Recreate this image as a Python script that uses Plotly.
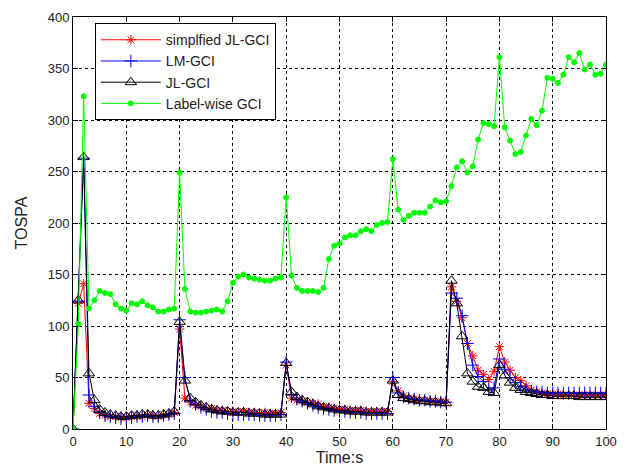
import plotly.graph_objects as go

time_s = list(range(0, 101))

simplified_jl_gci = [
    0, 122, 141, 25, 20, 15, 13, 12, 12, 11,
    11, 12, 13, 12, 14, 13, 12, 14, 14, 16,
    97, 30, 26, 23, 22, 20, 20, 18, 18, 17,
    17, 16, 17, 16, 16, 15, 16, 15, 15, 16,
    62, 30, 28, 27, 26, 25, 24, 22, 21, 20,
    19, 19, 18, 18, 18, 17, 17, 17, 17, 17,
    46, 37, 32, 30, 29, 28, 28, 27, 27, 27,
    26, 138, 124, 108, 83, 71, 57, 53, 48, 56,
    80, 65, 57, 50, 47, 42, 38, 36, 35, 34,
    34, 34, 33, 33, 33, 33, 33, 33, 33, 33, 33,
]

lm_gci = [
    0, 124, 263, 33, 22, 16, 13, 12, 11, 10,
    10, 11, 12, 12, 13, 12, 12, 13, 14, 15,
    106, 50, 27, 24, 21, 19, 17, 16, 16, 15,
    15, 14, 14, 14, 14, 13, 13, 13, 13, 14,
    65, 33, 29, 27, 25, 23, 21, 20, 19, 18,
    17, 17, 16, 16, 16, 15, 15, 15, 15, 15,
    50, 35, 31, 30, 29, 28, 28, 27, 27, 26,
    26, 132, 127, 110, 83, 62, 51, 46, 38, 40,
    68, 58, 50, 45, 41, 38, 37, 36, 36, 35,
    35, 35, 35, 35, 35, 35, 35, 35, 35, 35, 35,
]

jl_gci = [
    0, 125, 264, 54, 28, 19, 16, 14, 13, 12,
    12, 13, 13, 14, 14, 13, 13, 14, 15, 17,
    104, 47, 30, 26, 23, 21, 19, 18, 17, 17,
    16, 16, 16, 15, 15, 15, 14, 14, 14, 14,
    64, 36, 31, 28, 26, 24, 22, 21, 20, 19,
    18, 18, 17, 17, 17, 16, 16, 16, 16, 16,
    47, 33, 30, 29, 28, 27, 27, 26, 26, 25,
    25, 144, 122, 90, 54, 46, 41, 40, 36, 35,
    62, 52, 45, 40, 38, 36, 35, 34, 33, 33,
    32, 32, 32, 32, 32, 31, 31, 31, 31, 31, 31,
]

label_wise_gci = [
    0, 102, 323, 117, 125, 134, 132, 131, 121, 117,
    115, 122, 121, 124, 120, 118, 114, 114, 116, 117,
    249, 136, 114, 113, 113, 114, 115, 116, 114, 124,
    142, 148, 150, 147, 146, 145, 144, 144, 146, 147,
    225, 149, 137, 134, 134, 134, 133, 137, 165, 178,
    180, 186, 188, 188, 192, 194, 192, 198, 200, 201,
    262, 213, 203, 207, 210, 210, 210, 216, 222, 220,
    221, 236, 254, 260, 249, 255, 281, 297, 296, 294,
    361, 293, 280, 267, 269, 285, 301, 295, 309, 341,
    340, 336, 344, 361, 356, 365, 349, 354, 344, 345, 354,
]

x_ticks = [0, 10, 20, 30, 40, 50, 60, 70, 80, 90, 100]
y_ticks = [0, 50, 100, 150, 200, 250, 300, 350, 400]

series = [
    ("simplfied JL-GCI", simplified_jl_gci, "#ff0000", "asterisk-open", 8),
    ("LM-GCI", lm_gci, "#0000ff", "cross-thin-open", 9),
    ("JL-GCI", jl_gci, "#000000", "triangle-up-open", 10),
    ("Label-wise GCI", label_wise_gci, "#00ff00", "circle", 5),
]

fig = go.Figure()
for name, vals, color, sym, size in series:
    assert len(vals) == len(time_s)
    fig.add_trace(go.Scatter(
        x=time_s, y=vals, name=name, mode="lines+markers",
        line=dict(color=color, width=1),
        marker=dict(symbol=sym, size=size, color=color,
                    line=dict(color=color, width=1)),
    ))

axis_common = dict(
    showline=True, linecolor="black", linewidth=1, mirror="ticks",
    ticks="inside", ticklen=5, tickcolor="black",
    showgrid=True, gridcolor="black", griddash="dot", gridwidth=1,
    zeroline=False, tickfont=dict(size=13, color="#222"),
)

fig.update_layout(
    width=632, height=474,
    margin=dict(l=73, r=26, t=10, b=44),
    paper_bgcolor="white", plot_bgcolor="white",
    font=dict(family="Liberation Sans, Arial, sans-serif", size=13, color="#222"),
    xaxis=dict(range=[0, 100], tickvals=x_ticks,
               title=dict(text="Time:s", standoff=4), **axis_common),
    yaxis=dict(range=[0, 400], tickvals=y_ticks,
               title=dict(text="TOSPA", standoff=16), **axis_common),
    legend=dict(x=0.041, y=0.985, xanchor="left", yanchor="top",
                bgcolor="white", bordercolor="black", borderwidth=1,
                font=dict(size=14, color="#222"), itemwidth=60,
                tracegroupgap=0),
    showlegend=True,
)

# remove the browser's default body margin so the figure fills the window exactly
fig.write_html("out.html", config={"displayModeBar": False},
               post_script="document.body.style.margin='0';")
